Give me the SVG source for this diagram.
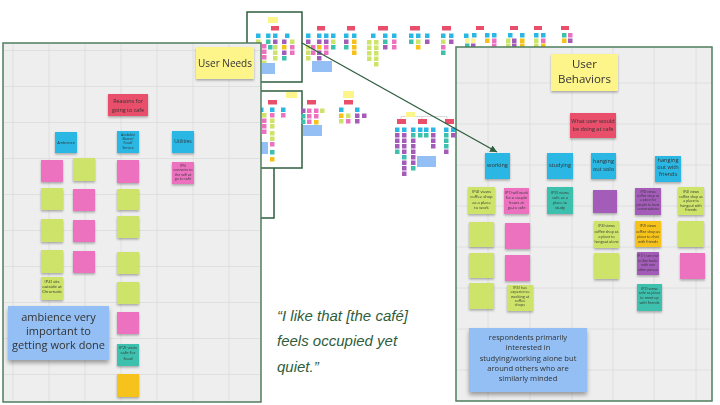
<svg xmlns="http://www.w3.org/2000/svg" xmlns:xlink="http://www.w3.org/1999/xlink" width="720" height="405" viewBox="0 0 720 405">
<style>
.c{fill:#2bb7e4}.r{fill:#e94f6b}.p{fill:#ec72c0}.g{fill:#cde36a}.t{fill:#3ec0ad}.u{fill:#a35db9}.y{fill:#f6c21a}.l{fill:#fdf48a}.b{fill:#93bff4}
.frame{fill:#ffffff;stroke:#2f5e3f;stroke-width:1.5}
.panel{fill:#eeeeee;stroke:#4f7d5e;stroke-width:1.5}
.grid{stroke:#dadada;stroke-width:0.8;fill:none}
.tx{font-family:"Open Sans","Liberation Sans",sans-serif;fill:#333;text-anchor:middle}
.quote{font-family:"Liberation Sans",Arial,sans-serif;font-style:italic;font-size:15px;fill:#2e5d3b}
</style>
<defs>
<rect id="q" width="4.5" height="4.5"/>
<filter id="sh" x="-20%" y="-20%" width="140%" height="150%">
<feDropShadow dx="0" dy="1.5" stdDeviation="1" flood-color="#000" flood-opacity="0.3"/>
</filter>
<filter id="shb" x="-10%" y="-10%" width="120%" height="130%">
<feDropShadow dx="0" dy="3" stdDeviation="2" flood-color="#000" flood-opacity="0.35"/>
</filter>
<marker id="ah" markerWidth="8" markerHeight="8" refX="7" refY="4" orient="auto" markerUnits="userSpaceOnUse">
<path d="M0,0.5 L7,4 L0,7.5 Z" fill="#2f5e3f"/>
</marker>
</defs>
<rect width="720" height="405" fill="#ffffff"/>

<!-- background board with tiny sticky clusters -->
<g id="board">
<rect class="frame" x="247" y="12" width="55" height="70"/>
<rect class="frame" x="240" y="91" width="62" height="77"/>
<path d="M240 218 H274 V168" fill="none" stroke="#2f5e3f" stroke-width="1.5"/>
<g id="clusterA">
<rect class="l" x="268" y="17" width="10" height="6"/>
<rect class="r" x="271" y="26" width="8" height="4.5"/>
<use href="#q" class="c" x="256" y="33.5"/><use href="#q" class="c" x="266" y="33.5"/><use href="#q" class="c" x="273" y="33.5"/><use href="#q" class="c" x="285" y="33.5"/>
<use href="#q" class="g" x="256" y="39.5"/>
<use href="#q" class="p" x="262" y="44"/><use href="#q" class="p" x="262" y="49.5"/><use href="#q" class="p" x="262" y="55"/><use href="#q" class="g" x="262" y="60.5"/>
<use href="#q" class="t" x="266" y="39.5"/><use href="#q" class="t" x="268" y="45"/>
<use href="#q" class="u" x="273" y="39.5"/><use href="#q" class="g" x="273" y="45"/><use href="#q" class="g" x="273" y="50.5"/><use href="#q" class="g" x="273" y="56"/>
<use href="#q" class="u" x="282" y="39.5"/><use href="#q" class="y" x="282" y="45"/><use href="#q" class="u" x="282" y="50.5"/><use href="#q" class="t" x="282" y="56"/>
<use href="#q" class="g" x="290" y="39.5"/><use href="#q" class="p" x="290" y="45"/><use href="#q" class="p" x="290" y="50.5"/>
<rect class="b" x="262" y="63" width="13" height="11"/>
</g>
<g id="cluster2">
<rect class="r" x="317" y="26" width="8" height="4.5"/>
<use href="#q" class="c" x="306" y="33.5"/><use href="#q" class="c" x="317" y="33.5"/><use href="#q" class="c" x="324" y="33.5"/><use href="#q" class="c" x="331" y="33.5"/>
<use href="#q" class="u" x="306" y="39.5"/><use href="#q" class="g" x="306" y="45"/><use href="#q" class="g" x="306" y="50.5"/><use href="#q" class="g" x="306" y="56"/>
<use href="#q" class="p" x="311" y="45"/><use href="#q" class="p" x="311" y="50.5"/>
<use href="#q" class="u" x="317" y="39.5"/><use href="#q" class="y" x="317" y="45"/><use href="#q" class="u" x="317" y="50.5"/><use href="#q" class="u" x="317" y="56"/>
<use href="#q" class="u" x="324" y="39.5"/><use href="#q" class="p" x="324" y="45"/><use href="#q" class="p" x="324" y="50.5"/>
<use href="#q" class="g" x="331" y="39.5"/><use href="#q" class="t" x="331" y="45"/>
<rect class="b" x="312" y="61" width="20" height="11"/>
</g>
<g id="cluster3">
<rect class="r" x="347" y="26" width="8" height="4.5"/>
<use href="#q" class="c" x="344" y="33.5"/><use href="#q" class="c" x="352" y="33.5"/>
<use href="#q" class="u" x="344" y="39.5"/><use href="#q" class="t" x="344" y="45"/>
<use href="#q" class="y" x="352" y="39.5"/><use href="#q" class="y" x="352" y="45"/><use href="#q" class="y" x="352" y="50.5"/>
</g>
<g id="cluster4">
<rect class="r" x="378" y="26" width="10" height="4.5"/>
<use href="#q" class="c" x="371" y="33.5"/><use href="#q" class="c" x="383" y="33.5"/><use href="#q" class="c" x="392" y="33.5"/>
<use href="#q" class="g" x="367" y="40"/><use href="#q" class="g" x="367" y="45.5"/><use href="#q" class="g" x="367" y="51"/><use href="#q" class="g" x="367" y="56.5"/>
<use href="#q" class="g" x="374" y="40"/><use href="#q" class="g" x="374" y="45.5"/><use href="#q" class="g" x="374" y="51"/><use href="#q" class="g" x="374" y="56.5"/><use href="#q" class="g" x="374" y="62"/>
<use href="#q" class="t" x="383" y="39.5"/><use href="#q" class="u" x="383" y="45"/>
<use href="#q" class="p" x="392" y="39.5"/><use href="#q" class="p" x="392" y="45"/>
</g>
<g id="cluster5">
<rect class="r" x="410" y="26" width="10" height="4.5"/>
<use href="#q" class="c" x="409" y="33.5"/><use href="#q" class="c" x="416" y="33.5"/><use href="#q" class="c" x="425" y="33.5"/>
<use href="#q" class="t" x="409" y="39.5"/>
<use href="#q" class="g" x="416" y="39.5"/><use href="#q" class="y" x="416" y="45"/>
<use href="#q" class="u" x="425" y="39.5"/>
</g>
<g id="cluster6">
<rect class="r" x="442" y="26" width="9" height="4.5"/>
<use href="#q" class="c" x="441" y="33.5"/><use href="#q" class="c" x="449" y="33.5"/><use href="#q" class="c" x="464" y="33.5"/>
<use href="#q" class="g" x="441" y="39.5"/><use href="#q" class="p" x="441" y="45"/><use href="#q" class="t" x="441" y="50.5"/>
<use href="#q" class="u" x="449" y="39.5"/>
</g>
<g id="cluster7">
<rect class="r" x="476" y="26" width="8" height="4"/>
<use href="#q" class="c" x="472" y="33"/><use href="#q" class="c" x="485" y="33"/><use href="#q" class="c" x="492" y="33"/>
<use href="#q" class="l" x="465" y="38.5"/><use href="#q" class="l" x="471" y="38.5"/><use href="#q" class="y" x="485" y="38.5"/><use href="#q" class="p" x="492" y="38.5"/>
<use href="#q" class="t" x="465" y="43.5"/><use href="#q" class="u" x="471" y="43.5"/><use href="#q" class="p" x="492" y="43.5"/>
<rect class="r" x="510" y="26" width="8" height="4"/>
<use href="#q" class="c" x="508" y="33"/><use href="#q" class="c" x="520" y="33"/>
<use href="#q" class="g" x="506" y="38.5"/><use href="#q" class="g" x="506" y="43.5"/>
<use href="#q" class="u" x="512" y="38.5"/><use href="#q" class="u" x="512" y="43.5"/>
<use href="#q" class="y" x="520" y="38.5"/><use href="#q" class="y" x="520" y="43.5"/>
<rect class="r" x="534" y="26" width="8" height="4"/>
<use href="#q" class="c" x="534" y="33"/><use href="#q" class="c" x="541" y="33"/>
<use href="#q" class="g" x="534" y="38.5"/><use href="#q" class="g" x="534" y="43.5"/>
<use href="#q" class="p" x="541" y="38.5"/><use href="#q" class="y" x="541" y="43.5"/>
<rect class="r" x="561" y="26" width="8" height="4"/>
<use href="#q" class="t" x="562" y="33"/><use href="#q" class="p" x="568" y="33"/>
<use href="#q" class="y" x="562" y="38.5"/><use href="#q" class="u" x="568" y="38.5"/>
</g>
<g id="clusterB">
<rect class="l" x="286" y="92" width="11" height="6"/>
<rect class="r" x="268" y="100" width="9" height="4.5"/>
<use href="#q" class="c" x="259" y="107.5"/><use href="#q" class="c" x="270" y="107.5"/><use href="#q" class="c" x="281" y="107.5"/>
<use href="#q" class="g" x="262" y="113"/><use href="#q" class="p" x="262" y="118.5"/><use href="#q" class="p" x="262" y="124"/><use href="#q" class="p" x="262" y="129.5"/>
<use href="#q" class="p" x="270" y="113"/><use href="#q" class="g" x="270" y="118.5"/><use href="#q" class="g" x="270" y="124"/><use href="#q" class="g" x="270" y="131"/><use href="#q" class="g" x="270" y="136.5"/><use href="#q" class="p" x="270" y="142"/><use href="#q" class="t" x="270" y="150"/><use href="#q" class="y" x="270" y="157"/>
<use href="#q" class="p" x="281" y="113"/>
<rect class="b" x="259" y="142" width="9" height="12"/>
</g>
<g id="cluster8">
<rect class="r" x="307" y="100" width="9" height="4.5"/>
<use href="#q" class="u" x="301" y="108.5"/><use href="#q" class="t" x="301" y="114"/><use href="#q" class="t" x="301" y="119.5"/>
<use href="#q" class="p" x="307" y="108.5"/><use href="#q" class="p" x="307" y="114"/><use href="#q" class="p" x="307" y="119.5"/>
<use href="#q" class="p" x="314" y="108.5"/><use href="#q" class="p" x="314" y="114"/><use href="#q" class="y" x="314" y="120"/>
<use href="#q" class="g" x="320" y="108.5"/>
<rect class="b" x="303" y="125" width="19" height="11"/>
</g>
<g id="cluster9">
<rect class="l" x="343" y="91" width="11" height="7"/>
<rect class="r" x="344" y="100" width="9" height="4.5"/>
<use href="#q" class="c" x="339" y="107.5"/><use href="#q" class="c" x="355" y="107.5"/>
<use href="#q" class="y" x="339" y="113.5"/><use href="#q" class="g" x="339" y="119"/>
<use href="#q" class="g" x="346" y="113.5"/><use href="#q" class="p" x="346" y="119"/>
<use href="#q" class="u" x="355" y="113.5"/><use href="#q" class="u" x="355" y="119"/>
<use href="#q" class="u" x="362" y="113.5"/>
</g>
<g id="cluster10">
<path d="M401 119 V116.5 H447 V119 M422 119 V116.5" fill="none" stroke="#cfcfcf" stroke-width="0.8"/>
<rect class="l" x="406" y="112" width="9" height="5"/>
<rect class="r" x="397" y="119" width="9" height="5"/><rect class="r" x="418" y="119" width="9" height="5"/><rect class="r" x="445" y="119" width="9" height="5"/>
<use href="#q" class="c" x="395" y="127.5"/><use href="#q" class="u" x="395" y="133"/><use href="#q" class="u" x="395" y="138.5"/><use href="#q" class="u" x="395" y="144"/><use href="#q" class="t" x="395" y="149.5"/>
<use href="#q" class="c" x="402" y="127.5"/><use href="#q" class="u" x="402" y="133"/><use href="#q" class="u" x="402" y="138.5"/><use href="#q" class="u" x="402" y="144"/><use href="#q" class="u" x="402" y="149.5"/><use href="#q" class="t" x="402" y="155"/><use href="#q" class="u" x="402" y="160.5"/><use href="#q" class="u" x="402" y="166"/><use href="#q" class="u" x="402" y="171.5"/>
<use href="#q" class="c" x="411" y="127.5"/><use href="#q" class="t" x="411" y="133"/><use href="#q" class="u" x="411" y="138.5"/><use href="#q" class="u" x="411" y="144"/><use href="#q" class="u" x="411" y="149.5"/><use href="#q" class="u" x="411" y="155"/><use href="#q" class="u" x="411" y="160.5"/><use href="#q" class="t" x="411" y="166"/>
<use href="#q" class="c" x="418" y="127.5"/><use href="#q" class="t" x="418" y="133"/>
<use href="#q" class="c" x="424" y="127.5"/><use href="#q" class="t" x="424" y="133"/>
<use href="#q" class="c" x="431" y="127.5"/><use href="#q" class="u" x="431" y="133"/><use href="#q" class="u" x="431" y="138.5"/><use href="#q" class="u" x="431" y="144"/>
<rect class="b" x="417" y="156" width="19" height="11"/>
<use href="#q" class="c" x="444" y="127.5"/><use href="#q" class="t" x="444" y="133"/><use href="#q" class="t" x="444" y="138.5"/><use href="#q" class="t" x="444" y="144"/><use href="#q" class="u" x="444" y="149.5"/>
<use href="#q" class="c" x="451" y="127.5"/><use href="#q" class="u" x="451" y="133"/>
</g>
</g>

<!-- Left panel: User Needs -->
<g id="user-needs-panel">
<rect class="panel" x="3" y="43" width="258" height="359"/>
<path class="grid" d="M13 44V401M49 44V401M85 44V401M121 44V401M157 44V401M193 44V401M229 44V401M4 50.5H260M4 86.5H260M4 122.5H260M4 158.5H260M4 194.5H260M4 230.5H260M4 266.5H260M4 302.5H260M4 338.5H260M4 374.5H260"/>
<g id="user-needs" filter="url(#sh)"><rect class="l" x="196" y="47" width="58" height="32"/><text class="tx" x="225" y="66.5" font-size="10">User Needs</text></g>
<g id="reasons" filter="url(#sh)"><rect class="r" x="108" y="94" width="40" height="22"/><text class="tx" x="128" y="103.3" font-size="5.4">Reasons for</text><text class="tx" x="128" y="111.5" font-size="5.4">going to cafe</text></g>
<g id="ambience" filter="url(#sh)"><rect class="c" x="55" y="132" width="22" height="21"/><text class="tx" x="66" y="143.5" font-size="3.8">Ambience</text></g>
<g id="available" filter="url(#sh)"><rect class="c" x="117" y="131" width="22" height="22"/><text class="tx" x="128" y="135.5" font-size="3.4">Available</text><text class="tx" x="128" y="139.8" font-size="3.4">Beans/</text><text class="tx" x="128" y="144.1" font-size="3.4">Food/</text><text class="tx" x="128" y="148.6" font-size="3.4">Service</text></g>
<g id="utilities" filter="url(#sh)"><rect class="c" x="172" y="131" width="22" height="22"/><text class="tx" x="183" y="143" font-size="5">Utilities</text></g>
<g id="needs-notes" filter="url(#sh)">
<rect class="p" x="41" y="160" width="22" height="22"/><rect class="g" x="41" y="188" width="22" height="22"/><rect class="g" x="41" y="219" width="22" height="23"/><rect class="g" x="41" y="250" width="22" height="23"/>
<rect class="g" x="73" y="158" width="22" height="23"/><rect class="p" x="73" y="189" width="22" height="22"/><rect class="p" x="73" y="220" width="22" height="22"/><rect class="p" x="73" y="251" width="22" height="22"/>
<rect class="p" x="117" y="160" width="22" height="23"/><rect class="g" x="117" y="189" width="22" height="21"/><rect class="g" x="117" y="216" width="22" height="22"/><rect class="g" x="117" y="252" width="22" height="22"/><rect class="g" x="117" y="282" width="22" height="22"/><rect class="p" x="117" y="312" width="22" height="22"/><rect class="y" x="117" y="374" width="22" height="23"/>
</g>
<g id="note-p4-sits" filter="url(#sh)"><rect class="g" x="41" y="277" width="22" height="23"/><text class="tx" x="52" y="282.5" font-size="4.2">(P4) sits</text><text class="tx" x="52" y="287.7" font-size="4.2">outside at</text><text class="tx" x="52" y="292.9" font-size="4.2">Chromatic</text></g>
<g id="note-p2-visits" filter="url(#sh)"><rect class="t" x="117" y="344" width="22" height="22"/><text class="tx" x="128" y="349" font-size="4.2">(P2) visits</text><text class="tx" x="128" y="354.3" font-size="4.2">cafe for</text><text class="tx" x="128" y="359.6" font-size="4.2">food</text></g>
<g id="note-p5-wifi" filter="url(#sh)"><rect class="p" x="172" y="162" width="22" height="22"/><text class="tx" x="183" y="167" font-size="3.6">(P5)</text><text class="tx" x="183" y="171.3" font-size="3.6">connects to</text><text class="tx" x="183" y="175.6" font-size="3.6">the wifi at</text><text class="tx" x="183" y="179.9" font-size="3.6">go to cafe</text></g>
<g id="ambience-insight" filter="url(#shb)"><rect class="b" x="8" y="306" width="101" height="54"/><text class="tx" x="58.5" y="321" font-size="11">ambience very</text><text class="tx" x="58.5" y="335" font-size="11">important to</text><text class="tx" x="58.5" y="349.3" font-size="11">getting work done</text></g>
</g>

<!-- Quote -->
<g id="quote">
<text class="quote" x="277" y="320.5">“I like that [the café]</text>
<text class="quote" x="277" y="346">feels occupied yet</text>
<text class="quote" x="277" y="371.7">quiet.”</text>
</g>

<!-- Right panel: User Behaviors -->
<g id="user-behaviors-panel">
<rect class="panel" x="456" y="47" width="256" height="354"/>
<path class="grid" d="M488 48V400M530 48V400M572 48V400M613 48V400M654 48V400M696 48V400M457 83H711M457 124H711M457 165H711M457 206H711M457 247H711M457 288H711M457 329H711M457 370H711"/>
<g id="user-behaviors" filter="url(#sh)"><rect class="l" x="551" y="54" width="67" height="37"/><text class="tx" x="584.5" y="68.3" font-size="11.5">User</text><text class="tx" x="584.5" y="82.7" font-size="11.5">Behaviors</text></g>
<g id="what-user" filter="url(#sh)"><rect class="r" x="570" y="113" width="46" height="25"/><text class="tx" x="593" y="122.7" font-size="5.5">What user would</text><text class="tx" x="593" y="130.7" font-size="5.5">be doing at cafe</text></g>
<g id="working" filter="url(#sh)"><rect class="c" x="485" y="153" width="25" height="26"/><text class="tx" x="497.5" y="167.3" font-size="5.6">working</text></g>
<g id="studying" filter="url(#sh)"><rect class="c" x="547" y="153" width="26" height="26"/><text class="tx" x="560" y="167.3" font-size="5.6">studying</text></g>
<g id="hanging-solo" filter="url(#sh)"><rect class="c" x="591" y="153" width="25" height="26"/><text class="tx" x="603.5" y="163" font-size="5.6">hanging</text><text class="tx" x="603.5" y="171" font-size="5.6">out solo</text></g>
<g id="hanging-friends" filter="url(#sh)"><rect class="c" x="655" y="156" width="26" height="26"/><text class="tx" x="668" y="161.5" font-size="5.6">hanging</text><text class="tx" x="668" y="168.8" font-size="5.6">out with</text><text class="tx" x="668" y="176.1" font-size="5.6">friends</text></g>
<g id="behavior-notes" filter="url(#sh)">
<rect class="u" x="593" y="190" width="24" height="23"/>
<rect class="g" x="469" y="222" width="25" height="25"/><rect class="p" x="505" y="223" width="25" height="26"/><rect class="g" x="678" y="221" width="26" height="26"/>
<rect class="g" x="469" y="253" width="25" height="25"/><rect class="p" x="505" y="255" width="25" height="26"/><rect class="g" x="594" y="253" width="25" height="26"/><rect class="p" x="680" y="253" width="25" height="26"/>
<rect class="g" x="469" y="283" width="25" height="26"/>
</g>
<g id="n-p4-work" filter="url(#sh)"><rect class="g" x="468" y="187" width="27" height="27"/><text class="tx" x="481.5" y="193" font-size="4.1">(P4) views</text><text class="tx" x="481.5" y="198.4" font-size="4.1">coffee shop</text><text class="tx" x="481.5" y="203.8" font-size="4.1">as a place</text><text class="tx" x="481.5" y="209.2" font-size="4.1">to work</text></g>
<g id="n-p1-work" filter="url(#sh)"><rect class="p" x="504" y="188" width="25" height="26"/><text class="tx" x="516.5" y="194" font-size="3.8">(P1) will work</text><text class="tx" x="516.5" y="199" font-size="3.8">for a couple</text><text class="tx" x="516.5" y="204" font-size="3.8">hours at</text><text class="tx" x="516.5" y="209" font-size="3.8">go-to cafe</text></g>
<g id="n-p2-study" filter="url(#sh)"><rect class="t" x="547" y="187" width="26" height="27"/><text class="tx" x="560" y="193.5" font-size="3.9">(P2) views</text><text class="tx" x="560" y="198.7" font-size="3.9">cafe as a</text><text class="tx" x="560" y="203.9" font-size="3.9">place to</text><text class="tx" x="560" y="209.1" font-size="3.9">study</text></g>
<g id="n-p3-conv" filter="url(#sh)"><rect class="u" x="635" y="188" width="26" height="27"/><text class="tx" x="648" y="193" font-size="3.3">(P3) views</text><text class="tx" x="648" y="197.2" font-size="3.3">coffee shop as</text><text class="tx" x="648" y="201.4" font-size="3.3">a place for</text><text class="tx" x="648" y="205.6" font-size="3.3">people to have</text><text class="tx" x="648" y="209.8" font-size="3.3">conversations</text></g>
<g id="n-p4-friends" filter="url(#sh)"><rect class="g" x="678" y="187" width="26" height="28"/><text class="tx" x="691" y="193" font-size="3.5">(P4) views</text><text class="tx" x="691" y="197.6" font-size="3.5">coffee shop as</text><text class="tx" x="691" y="202.2" font-size="3.5">a place to</text><text class="tx" x="691" y="206.8" font-size="3.5">hangout with</text><text class="tx" x="691" y="211.4" font-size="3.5">friends</text></g>
<g id="n-p4-alone" filter="url(#sh)"><rect class="g" x="594" y="221" width="25" height="27"/><text class="tx" x="606.5" y="227.3" font-size="3.6">(P4) views</text><text class="tx" x="606.5" y="232.5" font-size="3.6">coffee shop as</text><text class="tx" x="606.5" y="237.7" font-size="3.6">a place to</text><text class="tx" x="606.5" y="242.9" font-size="3.6">hangout alone</text></g>
<g id="n-p2-chat" filter="url(#sh)"><rect class="y" x="635" y="221" width="26" height="26"/><text class="tx" x="648" y="227.3" font-size="3.6">(P2) views</text><text class="tx" x="648" y="232.5" font-size="3.6">coffee shop as</text><text class="tx" x="648" y="237.7" font-size="3.6">place to chat</text><text class="tx" x="648" y="242.9" font-size="3.6">with friends</text></g>
<g id="n-p1-starbucks" filter="url(#sh)"><rect class="u" x="637" y="252" width="22" height="23"/><text class="tx" x="648" y="257" font-size="3.4">(P1) I see visit</text><text class="tx" x="648" y="261.5" font-size="3.4">to Starbucks</text><text class="tx" x="648" y="266" font-size="3.4">with one</text><text class="tx" x="648" y="270.5" font-size="3.4">other person</text></g>
<g id="n-p4-experience" filter="url(#sh)"><rect class="g" x="507" y="285" width="26" height="26"/><text class="tx" x="520" y="289" font-size="3.7">(P4) has</text><text class="tx" x="520" y="293.3" font-size="3.7">experience</text><text class="tx" x="520" y="297.6" font-size="3.7">working at</text><text class="tx" x="520" y="301.9" font-size="3.7">coffee</text><text class="tx" x="520" y="306.2" font-size="3.7">shops</text></g>
<g id="n-p2-meet" filter="url(#sh)"><rect class="t" x="637" y="284" width="25" height="27"/><text class="tx" x="649.5" y="289.5" font-size="3.6">(P2) views</text><text class="tx" x="649.5" y="294.4" font-size="3.6">cafe as place</text><text class="tx" x="649.5" y="299.3" font-size="3.6">to meet up</text><text class="tx" x="649.5" y="304.2" font-size="3.6">with friends</text></g>
<g id="behaviors-insight" filter="url(#shb)"><rect class="b" x="469" y="328" width="118" height="64"/><text class="tx" x="528" y="340" font-size="7.6">respondents primarily</text><text class="tx" x="528" y="350.3" font-size="7.6">interested in</text><text class="tx" x="528" y="360.6" font-size="7.6">studying/working alone but</text><text class="tx" x="528" y="370.7" font-size="7.6">around others who are</text><text class="tx" x="528" y="380.8" font-size="7.6">similarly minded</text></g>
</g>

<g id="connectors">
<line x1="302" y1="43" x2="497" y2="152" stroke="#2f5e3f" stroke-width="1.3" marker-end="url(#ah)"/>
</g>
</svg>
